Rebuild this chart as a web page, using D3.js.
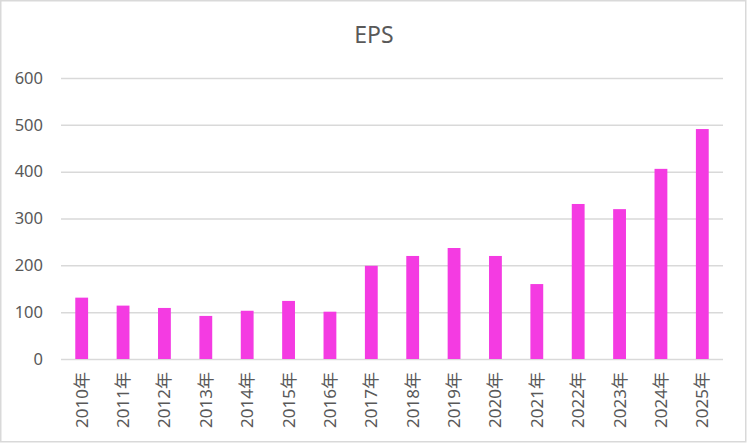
<!DOCTYPE html>
<html>
<head>
<meta charset="utf-8">
<script src="https://cdn.jsdelivr.net/npm/d3@7"></script>
<style>
  body { margin: 0; background: #fff; }
  svg { display: block; }
</style>
</head>
<body>
<div id="chart"></div>
<script>
let years = ["2010年", "2011年", "2012年", "2013年", "2014年", "2015年", "2016年", "2017年",
  "2018年", "2019年", "2020年", "2021年", "2022年", "2023年", "2024年", "2025年"];
let eps = [131, 114, 109, 92, 103, 124, 101, 199, 220, 237, 220, 160, 331, 320, 406, 491];
let yTicks = [0, 100, 200, 300, 400, 500, 600];

let width = 748, height = 444;
let margin = { top: 78, right: 25, bottom: 85, left: 61 };
let font = "'Noto Sans', 'Noto Sans CJK JP', sans-serif";
let textColor = "#595959";

let svg = d3.select("#chart").append("svg")
  .attr("width", width)
  .attr("height", height);

// chart border
svg.append("rect")
  .attr("x", 0.75).attr("y", 0.75)
  .attr("width", width - 3).attr("height", height - 3)
  .attr("fill", "#fff")
  .attr("stroke", "#d9d9d9")
  .attr("stroke-width", 1.5);

let xScale = d3.scaleBand()
  .domain(years)
  .range([margin.left, width - margin.right]);

let yScale = d3.scaleLinear()
  .domain([0, 600])
  .range([height - margin.bottom, margin.top]);

// gridlines + y labels
let yAxis = d3.axisLeft(yScale)
  .tickValues(yTicks)
  .tickSizeInner(-(width - margin.left - margin.right))
  .tickSizeOuter(0)
  .tickPadding(18);

svg.append("g")
  .attr("transform", `translate(${margin.left},0)`)
  .call(yAxis)
  .call((g) => g.select(".domain").remove())
  .call((g) => g.selectAll("line").attr("stroke", "#d9d9d9").attr("stroke-width", 1.5))
  .call((g) => g.selectAll("text")
    .attr("fill", textColor)
    .style("font-family", font)
    .style("font-size", "16.5px"));

// bars
let barW = xScale.bandwidth() * 0.31;
svg.append("g")
  .selectAll("rect")
  .data(eps)
  .join("rect")
  .attr("x", (d, i) => xScale(years[i]) + xScale.bandwidth() / 2 - barW / 2)
  .attr("y", (d) => yScale(d))
  .attr("width", barW)
  .attr("height", (d) => yScale(0) - yScale(d))
  .attr("fill", "#f43be2");

// x labels rotated
let xAxis = d3.axisBottom(xScale).tickSize(0).tickPadding(0);
svg.append("g")
  .attr("transform", `translate(0,${yScale(0)})`)
  .call(xAxis)
  .call((g) => g.select(".domain").remove())
  .call((g) => g.selectAll("text")
    .attr("fill", textColor)
    .attr("text-anchor", "end")
    .attr("transform", "translate(0,13) rotate(-90)")
    .attr("x", 0).attr("y", 0).attr("dy", "0.35em")
    .style("font-family", font)
    .style("font-size", "17px"));

// title
svg.append("text")
  .attr("x", width / 2)
  .attr("y", 43)
  .attr("text-anchor", "middle")
  .attr("fill", textColor)
  .style("font-family", font)
  .style("font-size", "23px")
  .text("EPS");
</script>
</body>
</html>
